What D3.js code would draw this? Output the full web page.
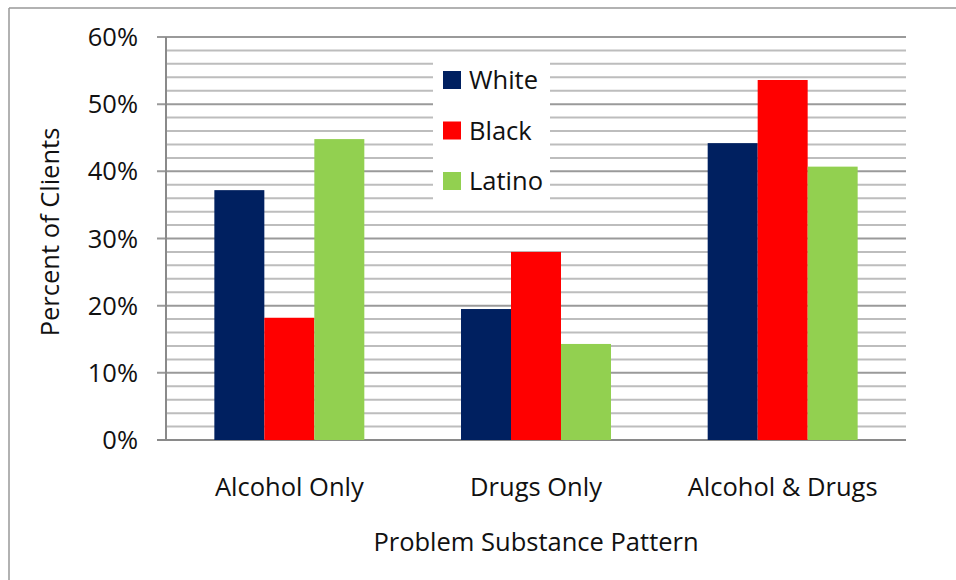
<!DOCTYPE html>
<html>
<head>
<meta charset="utf-8">
<script src="https://cdn.jsdelivr.net/npm/d3@7"></script>
<style>
  html, body { margin: 0; padding: 0; background: #fff; }
  svg text { font-family: "Open Sans", "Noto Sans", sans-serif; fill: #111; }
</style>
</head>
<body>
<div id="chart"></div>
<script>
// data
var categories = ["Alcohol Only", "Drugs Only", "Alcohol & Drugs"];
var groups = ["White", "Black", "Latino"];
var white  = [37.2, 19.5, 44.2];
var black  = [18.2, 28.0, 53.6];
var latino = [44.8, 14.3, 40.7];
var yTicks = [0, 10, 20, 30, 40, 50, 60];
var colors = ["#002060", "#ff0000", "#92d050"];

var width = 956, height = 580;
var margin = {left: 166, right: 50, top: 37, bottom: 140};
var fontSize = 25.5;

var svg = d3.select("#chart").append("svg")
    .attr("width", width)
    .attr("height", height);

// outer frame (top and left edges show)
svg.append("line").attr("x1", 9).attr("x2", width).attr("y1", 8).attr("y2", 8)
    .style("stroke", "#999").style("stroke-width", 1.5);
svg.append("line").attr("x1", 9).attr("x2", 9).attr("y1", 8).attr("y2", height)
    .style("stroke", "#999").style("stroke-width", 1.5);

var x = d3.scaleBand()
    .domain(categories)
    .range([margin.left, width - margin.right])
    .paddingInner(0.392)
    .paddingOuter(0.196);

var xs = d3.scaleBand()
    .domain(groups)
    .range([0, x.bandwidth()]);

var y = d3.scaleLinear()
    .domain([0, 60])
    .range([height - margin.bottom, margin.top]);

// minor gridlines every 2%
var g = svg.append("g");
g.selectAll(".minor")
    .data(d3.range(2, 60, 2).filter(function(d) { return d % 10 != 0; }))
    .enter().append("line")
    .attr("class", "minor")
    .attr("x1", margin.left).attr("x2", width - margin.right)
    .attr("y1", function(d) { return y(d); })
    .attr("y2", function(d) { return y(d); })
    .style("stroke", "#bdbdbd").style("stroke-width", 2);

// major gridlines + ticks
g.selectAll(".major")
    .data(yTicks)
    .enter().append("line")
    .attr("class", "major")
    .attr("x1", margin.left - 9).attr("x2", width - margin.right)
    .attr("y1", function(d) { return y(d); })
    .attr("y2", function(d) { return y(d); })
    .style("stroke", function(d) { return d == 0 ? "#8a8a8a" : "#9a9a9a"; })
    .style("stroke-width", 2);

// legend box (drawn over the grid)
var legend = svg.append("g");
legend.append("rect")
    .attr("x", 433).attr("y", 57)
    .attr("width", 117).attr("height", 146)
    .style("fill", "#fff");

// bars
var series = [white, black, latino];
var barData = [];
categories.forEach(function(c, i) {
    groups.forEach(function(s, j) {
        barData.push({cat: c, group: s, value: series[j][i], color: colors[j]});
    });
});

svg.selectAll(".bar")
    .data(barData)
    .enter().append("rect")
    .attr("class", "bar")
    .attr("x", function(d) { return x(d.cat) + xs(d.group); })
    .attr("width", xs.bandwidth())
    .attr("y", function(d) { return y(d.value); })
    .attr("height", function(d) { return y(0) - y(d.value); })
    .style("fill", function(d) { return d.color; });

// y axis line
svg.append("line")
    .attr("x1", margin.left).attr("x2", margin.left)
    .attr("y1", y(60)).attr("y2", y(0))
    .style("stroke", "#8a8a8a").style("stroke-width", 2);

// y tick labels
svg.selectAll(".ytick")
    .data(yTicks)
    .enter().append("text")
    .attr("class", "ytick")
    .attr("x", 138)
    .attr("y", function(d) { return y(d) + 9; })
    .attr("text-anchor", "end")
    .attr("font-size", fontSize)
    .text(function(d) { return d + "%"; });

// category labels
svg.selectAll(".xlab")
    .data(categories)
    .enter().append("text")
    .attr("class", "xlab")
    .attr("x", function(d) { return x(d) + x.bandwidth() / 2; })
    .attr("y", 496)
    .attr("text-anchor", "middle")
    .attr("font-size", fontSize)
    .text(function(d) { return d; });

// axis titles
svg.append("text")
    .attr("x", 536).attr("y", 551)
    .attr("text-anchor", "middle")
    .attr("font-size", fontSize)
    .text("Problem Substance Pattern");

svg.append("text")
    .attr("transform", "translate(59,232) rotate(-90)")
    .attr("text-anchor", "middle")
    .attr("font-size", fontSize)
    .text("Percent of Clients");

// legend entries
var items = legend.selectAll(".item")
    .data(groups)
    .enter().append("g")
    .attr("class", "item")
    .attr("transform", function(d, i) { return "translate(443," + (71 + i * 50.5) + ")"; });

items.append("rect")
    .attr("width", 18).attr("height", 18)
    .style("fill", function(d, i) { return colors[i]; });

items.append("text")
    .attr("x", 26).attr("y", 18)
    .attr("font-size", fontSize)
    .text(function(d) { return d; });
</script>
</body>
</html>
